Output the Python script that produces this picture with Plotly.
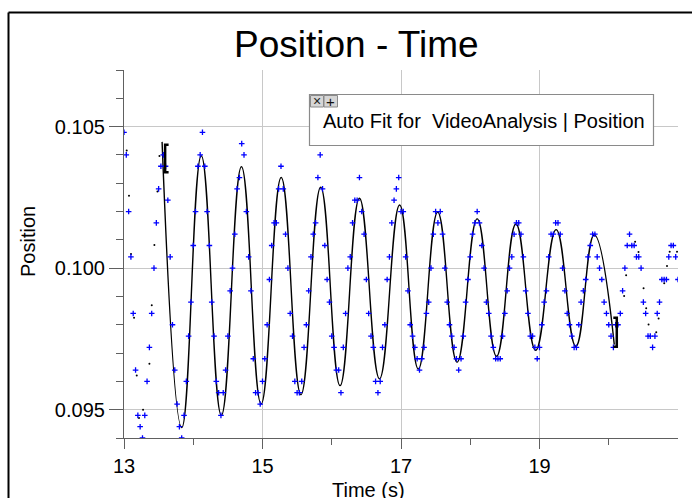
import plotly.graph_objects as go

# ---------------- data ----------------
time_s = [
    13.000, 13.033, 13.067, 13.100, 13.133, 13.167, 13.200, 13.233, 13.267, 13.300,
    13.333, 13.367, 13.400, 13.433, 13.467, 13.500, 13.533, 13.567, 13.600, 13.633,
    13.667, 13.700, 13.733, 13.767, 13.800, 13.833, 13.867, 13.900, 13.933, 13.967,
    14.000, 14.033, 14.067, 14.100, 14.133, 14.167, 14.200, 14.233, 14.267, 14.300,
    14.333, 14.367, 14.400, 14.433, 14.467, 14.500, 14.533, 14.567, 14.600, 14.633,
    14.667, 14.700, 14.733, 14.767, 14.800, 14.833, 14.867, 14.900, 14.933, 14.967,
    15.000, 15.033, 15.067, 15.100, 15.133, 15.167, 15.200, 15.233, 15.267, 15.300,
    15.333, 15.367, 15.400, 15.433, 15.467, 15.500, 15.533, 15.567, 15.600, 15.633,
    15.667, 15.700, 15.733, 15.767, 15.800, 15.833, 15.867, 15.900, 15.933, 15.967,
    16.000, 16.033, 16.067, 16.100, 16.133, 16.167, 16.200, 16.233, 16.267, 16.300,
    16.333, 16.367, 16.400, 16.433, 16.467, 16.500, 16.533, 16.567, 16.600, 16.633,
    16.667, 16.700, 16.733, 16.767, 16.800, 16.833, 16.867, 16.900, 16.933, 16.967,
    17.000, 17.033, 17.067, 17.100, 17.133, 17.167, 17.200, 17.233, 17.267, 17.300,
    17.333, 17.367, 17.400, 17.433, 17.467, 17.500, 17.533, 17.567, 17.600, 17.633,
    17.667, 17.700, 17.733, 17.767, 17.800, 17.833, 17.867, 17.900, 17.933, 17.967,
    18.000, 18.033, 18.067, 18.100, 18.133, 18.167, 18.200, 18.233, 18.267, 18.300,
    18.333, 18.367, 18.400, 18.433, 18.467, 18.500, 18.533, 18.567, 18.600, 18.633,
    18.667, 18.700, 18.733, 18.767, 18.800, 18.833, 18.867, 18.900, 18.933, 18.967,
    19.000, 19.033, 19.067, 19.100, 19.133, 19.167, 19.200, 19.233, 19.267, 19.300,
    19.333, 19.367, 19.400, 19.433, 19.467, 19.500, 19.533, 19.567, 19.600, 19.633,
    19.667, 19.700, 19.733, 19.767, 19.800, 19.833, 19.867, 19.900, 19.933, 19.967,
    20.000, 20.033, 20.067, 20.100, 20.133, 20.167, 20.200, 20.233, 20.267, 20.300,
    20.333, 20.367, 20.400, 20.433, 20.467, 20.500, 20.533, 20.567, 20.600, 20.633,
    20.667, 20.700, 20.733, 20.767, 20.800, 20.833, 20.867, 20.900, 20.933, 20.967,
    21.000,
]

position = [
    .1048, .1040, .1020, .1004, .0984, .0964, .0948, .0944, .0940, .0948,
    .0960, .0972, .0984, .1000, .1016, .1028, .1036, .1040, .1036, .1024,
    .1004, .0980, .0964, .0952, .0944, .0940, .0948, .0960, .0976, .0988,
    .1008, .1020, .1036, .1040, .1048, .1036, .1020, .1008, .0988, .0976,
    .0960, .0956, .0948, .0956, .0964, .0976, .0992, .1000, .1012, .1028,
    .1032, .1044, .1040, .1020, .1004, .0992, .0968, .0956, .0956, .0952,
    .0960, .0968, .0980, .0996, .1008, .1016, .1016, .1028, .1036, .1028,
    .1012, .1000, .0984, .0976, .0960, .0956, .0956, .0960, .0972, .0980,
    .0992, .1004, .1012, .1016, .1032, .1040, .1028, .1008, .0996, .0988,
    .0976, .0972, .0964, .0964, .0956, .0972, .0984, .1000, .1004, .1016,
    .1024, .1024, .1032, .1020, .1012, .0996, .0984, .0976, .0972, .0960,
    .0956, .0960, .0972, .0980, .0996, .1004, .1016, .1024, .1028, .1032,
    .1020, .1020, .1004, .0992, .0980, .0976, .0972, .0968, .0964, .0968,
    .0972, .0984, .0988, .1000, .1012, .1020, .1016, .1020, .1012, .1000,
    .0988, .0980, .0976, .0972, .0968, .0964, .0968, .0976, .0988, .0996,
    .1004, .1012, .1016, .1020, .1016, .1008, .1000, .0988, .0984, .0976,
    .0972, .0968, .0968, .0968, .0976, .0984, .0992, .1000, .1004, .1012,
    .1016, .1016, .1012, .1004, .0992, .0984, .0976, .0976, .0972, .0968,
    .0972, .0980, .0988, .0992, .1004, .1012, .1012, .1016, .1016, .1012,
    .1000, .0992, .0984, .0980, .0976, .0972, .0972, .0980, .0988, .0992,
    .0996, .1004, .1008, .1012, .1012, .1004, .1000, .0996, .0988, .0984,
    .0980, .0976, .0972, .0980, .0980, .0984, .0992, .1000, .1008, .1012,
    .1008, .1008, .1004, .1004, .1000, .0988, .0984, .0976, .0976, .0972,
    .0976, .0984, .0988, .0996, .0996, .0996, .1004, .1008, .1008, .1004,
    .0996,
]

# second (tiny black dot) series visible outside the fit range
dots_time = [13.039, 13.072, 13.101, 13.145, 13.184, 13.217, 13.275, 13.367,
             13.401, 13.439, 13.483, 13.512,
             20.222, 20.251, 20.381, 20.430, 20.503, 20.541, 20.575, 20.686,
             20.720, 20.801, 20.841, 20.880, 20.986]
dots_position = [.10416, .10256, .10050, .09825, .09621, .09471, .09500, .09662,
                 .09869, .10082, .10271, .10396,
                 .09902, .09975, .10093, .10057, .09929, .09858, .09801, .09774,
                 .09822, .09947, .10008, .10058, .10058]

# auto-fit curve: its turning points
fit_time = [13.550, 13.835, 14.116, 14.406, 14.696, 14.980, 15.270, 15.555,
            15.840, 16.120, 16.400, 16.690, 16.980, 17.250, 17.530, 17.810,
            18.100, 18.380, 18.660, 18.945, 19.240, 19.525, 19.790, 20.080]
fit_position = [.10446, .09437, .10397, .09480, .10358, .09520, .10320, .09553,
                .10286, .09585, .10247, .09609, .10223, .09644, .10198, .09668,
                .10174, .09689, .10156, .09710, .10136, .09724, .10117, .09730]

# fit range brackets
fit_start, fit_start_top, fit_start_bottom = 13.594, .10436, .10339
fit_end, fit_end_top, fit_end_bottom = 20.116, .09825, .09722

x_major = [13, 15, 17, 19]
x_minor = [14, 16, 18, 20]
y_major = [0.095, 0.100, 0.105]
y_major_text = ["0.095", "0.100", "0.105"]

title_text = "Position - Time"
x_title = "Time (s)"
y_title = "Position"
fit_label = "Auto Fit for\u00a0\u00a0VideoAnalysis | Position"

# ---------------- layout geometry (pixels) ----------------
W, H = 692, 498
L, R, T, B = 124, 678, 70, 438
FONT = "Liberation Sans, Arial, sans-serif"


def px(x):
    return (x - L) / (R - L)


def py(y):
    return (B - y) / (B - T)


fig = go.Figure()

fig.add_trace(go.Scatter(
    x=fit_time, y=fit_position, mode="lines",
    line=dict(color="black", width=1.4, shape="spline", smoothing=1.3),
    hoverinfo="skip", showlegend=False))

fig.add_trace(go.Scatter(
    x=dots_time, y=dots_position, mode="markers",
    marker=dict(color="black", size=2),
    hoverinfo="skip", showlegend=False))

fig.add_trace(go.Scatter(
    x=time_s, y=position, mode="markers",
    marker=dict(symbol="cross-thin", size=4, color="#0000ff",
                line=dict(color="#0000ff", width=1.3)),
    showlegend=False))

shapes = []
# fit range brackets
dx = 0.05
shapes.append(dict(type="path", xref="x", yref="y",
                   path=f"M {fit_start+dx},{fit_start_top} L {fit_start},{fit_start_top} "
                        f"L {fit_start},{fit_start_bottom} L {fit_start+dx},{fit_start_bottom}",
                   line=dict(color="black", width=2.5)))
shapes.append(dict(type="path", xref="x", yref="y",
                   path=f"M {fit_end-dx},{fit_end_top} L {fit_end},{fit_end_top} "
                        f"L {fit_end},{fit_end_bottom} L {fit_end-dx},{fit_end_bottom}",
                   line=dict(color="black", width=2.5)))
# outer frame (left + top)
shapes.append(dict(type="line", xref="paper", yref="paper",
                   x0=px(8.5), x1=px(8.5), y0=py(12.5), y1=py(H),
                   line=dict(color="black", width=2)))
shapes.append(dict(type="line", xref="paper", yref="paper",
                   x0=px(8.5), x1=px(W), y0=py(12.5), y1=py(12.5),
                   line=dict(color="black", width=2)))
# fit info box
shapes.append(dict(type="rect", xref="paper", yref="paper",
                   x0=px(309.5), x1=px(653.5), y0=py(145.5), y1=py(94.5),
                   fillcolor="white", line=dict(color="#8a8a8a", width=1.2),
                   layer="above"))
shapes.append(dict(type="rect", xref="paper", yref="paper",
                   x0=px(310.5), x1=px(323.5), y0=py(107), y1=py(95.5),
                   fillcolor="#d6d6d6", line=dict(color="#8a8a8a", width=1),
                   layer="above"))
shapes.append(dict(type="rect", xref="paper", yref="paper",
                   x0=px(324), x1=px(337.5), y0=py(107), y1=py(95.5),
                   fillcolor="#d6d6d6", line=dict(color="#8a8a8a", width=1),
                   layer="above"))

annotations = [
    dict(text=title_text, x=px(356), y=py(44), xref="paper", yref="paper",
         xanchor="center", yanchor="middle", showarrow=False,
         font=dict(family=FONT, size=37, color="black")),
    dict(text=y_title, x=px(28), y=py(242), xref="paper", yref="paper",
         xanchor="center", yanchor="middle", showarrow=False, textangle=-90,
         font=dict(family=FONT, size=20, color="black")),
    dict(text=x_title, x=px(368), y=py(489.5), xref="paper", yref="paper",
         xanchor="center", yanchor="middle", showarrow=False,
         font=dict(family=FONT, size=20, color="black")),
    dict(text=fit_label, x=px(321), y=py(121), xref="paper", yref="paper",
         xanchor="left", yanchor="middle", showarrow=False,
         font=dict(family=FONT, size=20, color="black")),
    dict(text="\u00d7", x=px(317), y=py(101.3), xref="paper", yref="paper",
         xanchor="center", yanchor="middle", showarrow=False,
         font=dict(family=FONT, size=14, color="#222")),
    dict(text="+", x=px(330.8), y=py(101.3), xref="paper", yref="paper",
         xanchor="center", yanchor="middle", showarrow=False,
         font=dict(family=FONT, size=15, color="#111")),
]

axis_color = "#606060"
grid_color = "#c8c8c8"

fig.update_layout(
    width=W, height=H, autosize=False,
    margin=dict(l=L, r=W - R, t=T, b=H - B, pad=0),
    paper_bgcolor="white", plot_bgcolor="white",
    font=dict(family=FONT, size=20, color="black"),
    shapes=shapes, annotations=annotations,
    xaxis=dict(
        range=[13, 21], showline=True, linecolor=axis_color, linewidth=1.2,
        ticks="outside", ticklen=10, tickwidth=1.2, tickcolor=axis_color,
        tickvals=x_major, ticktext=[str(v) for v in x_major],
        tickfont=dict(family=FONT, size=20, color="black"),
        showgrid=True, gridcolor=grid_color, gridwidth=1.2,
        zeroline=False, mirror=False,
        minor=dict(tickvals=x_minor, ticks="outside", ticklen=6,
                   tickwidth=1.2, tickcolor=axis_color, showgrid=False),
    ),
    yaxis=dict(
        range=[0.094, 0.107], showline=True, linecolor=axis_color, linewidth=1.2,
        ticks="outside", ticklen=14, tickwidth=1.2, tickcolor=axis_color,
        tickvals=y_major, ticktext=y_major_text,
        tickfont=dict(family=FONT, size=20, color="black"),
        showgrid=True, gridcolor=grid_color, gridwidth=1.2,
        zeroline=False, mirror=False,
        minor=dict(dtick=0.001, tick0=0.094, ticks="outside", ticklen=7,
                   tickwidth=1.2, tickcolor=axis_color, showgrid=False),
    ),
)

fig.write_html(
    "out.html",
    config={"displayModeBar": False},
    post_script="document.body.style.margin='0px';document.body.style.overflow='hidden';",
)
